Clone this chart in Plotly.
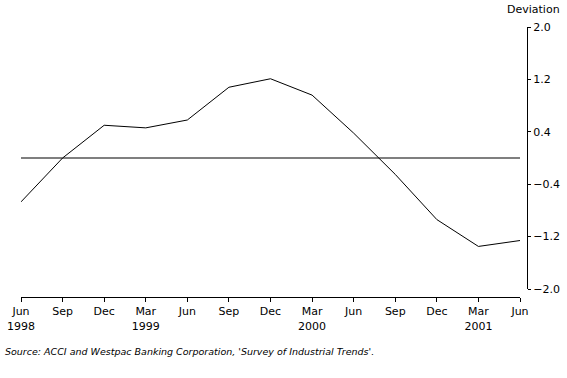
import plotly.graph_objects as go

quarters = ["Jun", "Sep", "Dec", "Mar", "Jun", "Sep", "Dec", "Mar", "Jun", "Sep", "Dec", "Mar", "Jun"]
years = ["1998", "", "", "1999", "", "", "", "2000", "", "", "", "2001", ""]
deviation = [-0.67, 0.0, 0.50, 0.46, 0.58, 1.08, 1.21, 0.96, 0.38, -0.25, -0.94, -1.35, -1.26]
y_ticks = [-2.0, -1.2, -0.4, 0.4, 1.2, 2.0]

x_idx = list(range(len(quarters)))
tick_text = [q + ("<br>" + y if y else "") for q, y in zip(quarters, years)]

FONT = "DejaVu Sans"

fig = go.Figure()
fig.add_trace(go.Scatter(x=x_idx, y=deviation, mode="lines",
                         line=dict(color="black", width=1), showlegend=False,
                         hoverinfo="skip"))
fig.add_shape(type="line", xref="x", yref="y", x0=0, x1=len(quarters) - 1, y0=0, y1=0,
              line=dict(color="black", width=1.2))

fig.update_layout(
    template="none",
    width=567, height=378,
    margin=dict(l=21, r=40, t=27, b=81, autoexpand=False),
    plot_bgcolor="white", paper_bgcolor="white",
    font=dict(family=FONT, size=11, color="black"),
    xaxis=dict(domain=[0, 499 / 506], anchor="free", position=0, automargin=False,
               range=[0, len(quarters) - 1], tickvals=x_idx, ticktext=tick_text,
               showline=True, linecolor="black", linewidth=1,
               ticks="outside", ticklen=4, tickcolor="black", tickwidth=1,
               showgrid=False, zeroline=False, tickfont=dict(size=11)),
    yaxis=dict(domain=[8 / 270, 1], side="right", anchor="free", position=1, automargin=False,
               range=[-2, 2], tickvals=y_ticks, tickformat=".1f",
               showline=True, linecolor="black", linewidth=1,
               ticks="outside", ticklen=3, tickcolor="black", tickwidth=1,
               showgrid=False, zeroline=False, tickfont=dict(size=11)),
    annotations=[
        dict(text="Deviation", xref="paper", yref="paper", x=(562 - 21) / 506,
             y=(297 - 9) / 270, xanchor="right", yanchor="middle", showarrow=False,
             font=dict(size=11)),
        dict(text="<i>Source: ACCI and Westpac Banking Corporation, 'Survey of Industrial Trends'.</i>",
             xref="paper", yref="paper", x=(3 - 21) / 506, y=(297 - 351) / 270,
             xanchor="left", yanchor="middle", showarrow=False,
             font=dict(size=9.5)),
    ],
)

fig.write_html("out.html", config={"displayModeBar": False},
               post_script="document.body.style.margin='0';document.body.style.overflow='hidden';")
